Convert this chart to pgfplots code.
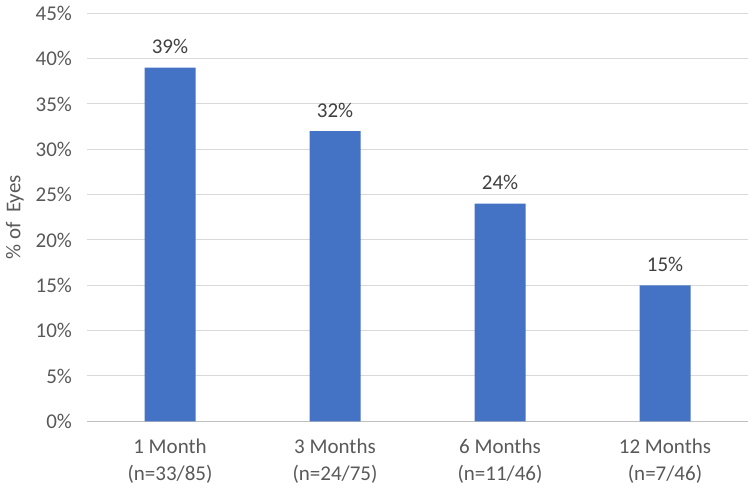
\documentclass[border=0pt]{standalone}
\usepackage{pgfplots}
\pgfplotsset{compat=1.18}
\usepackage{fontspec}
\setmainfont{Carlito}
\definecolor{barblue}{HTML}{4472C4}
\definecolor{ticktext}{HTML}{595959}
\definecolor{valtext}{HTML}{404040}
\definecolor{gridgray}{HTML}{D9D9D9}
\definecolor{axisgray}{HTML}{BFBFBF}

\begin{document}
\begin{tikzpicture}
\begin{axis}[
  scale only axis,
  width=660pt, height=408pt,
  xmin=-0.5, xmax=3.5,
  ymin=0, ymax=45,
  ytick={0,5,...,45},
  yticklabel={\pgfmathprintnumber{\tick}\%},
  xtick=data,
  xticklabels={1 Month\\(n=33/85), 3 Months\\(n=24/75), 6 Months\\(n=11/46), 12 Months\\(n=7/46)},
  xticklabel style={align=center, font=\fontsize{21}{27}\selectfont, text=ticktext, yshift=-14pt},
  yticklabel style={font=\fontsize{21}{24}\selectfont, text=ticktext, xshift=-12pt},
  /pgf/number format/assume math mode=true,
  ylabel={\%\ of\ \ Eyes},
  ylabel style={font=\fontsize{21}{24}\selectfont, text=ticktext, yshift=5pt},
  major tick length=0pt,
  ymajorgrids,
  grid style={gridgray, line width=1pt},
  axis line style={draw=none},
  axis x line*=bottom,
  x axis line style={draw=axisgray, line width=1pt},
  y axis line style={draw=none},
  ybar, bar width=51pt,
  nodes near coords={\pgfmathprintnumber{\pgfplotspointmeta}\%},
  nodes near coords style={font=\fontsize{21}{24}\selectfont, text=valtext, yshift=10pt},
  clip=false,
]
  \addplot[fill=barblue, draw=none] coordinates {(0,39) (1,32) (2,24) (3,15)};
\end{axis}
\pgfresetboundingbox
\path[use as bounding box] ([shift={(-87.5pt,-70.7pt)}]current axis.south west) rectangle ([shift={(5.5pt,13.3pt)}]current axis.north east);
\end{tikzpicture}
\end{document}
